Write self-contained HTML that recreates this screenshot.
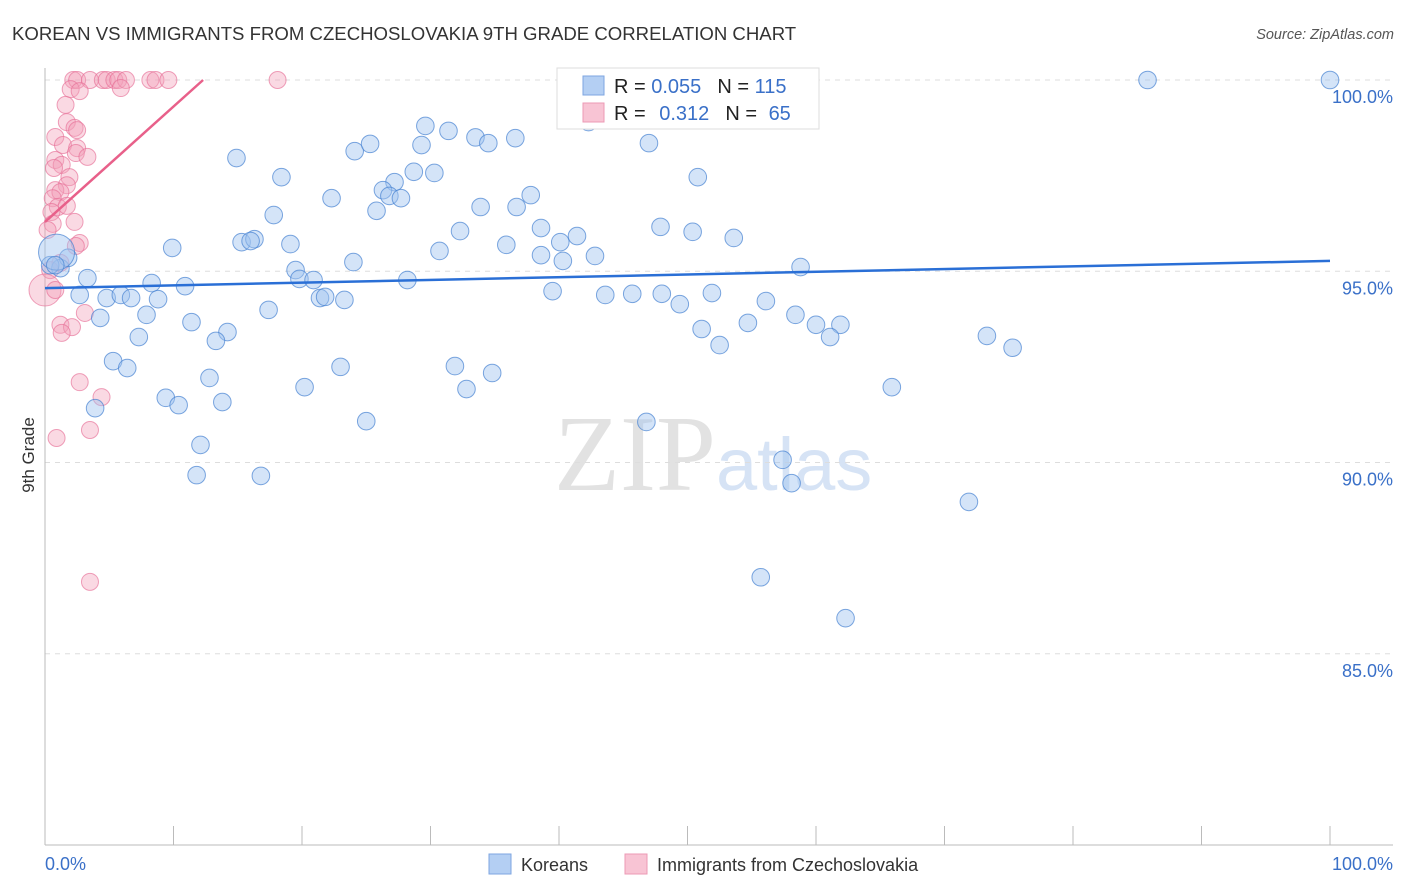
<!DOCTYPE html>
<html><head><meta charset="utf-8">
<style>
body{margin:0;background:#fff;font-family:"Liberation Sans",sans-serif}
svg{display:block}
</style></head>
<body>
<svg id="chart" width="1406" height="892" xmlns="http://www.w3.org/2000/svg">
<text x="12" y="40" font-size="18.6" fill="#333">KOREAN VS IMMIGRANTS FROM CZECHOSLOVAKIA 9TH GRADE CORRELATION CHART</text>
<text x="1394" y="39" font-size="14.5" fill="#555" font-style="italic" text-anchor="end">Source: ZipAtlas.com</text>
<text x="716" y="490" font-size="108" fill="#e2e2e2" font-family="Liberation Serif,serif" text-anchor="end">ZIP</text>
<text x="716" y="490" font-size="74" fill="#d6e3f5">atlas</text>
<g id="grid"></g>
<g id="pts"></g>
<g id="lines"></g>
<text transform="translate(34,455) rotate(-90)" font-size="17" fill="#333" text-anchor="middle">9th Grade</text>
<text x="45" y="870" font-size="18" fill="#3a70c8">0.0%</text>
<text x="1393" y="870" font-size="18" fill="#3a70c8" text-anchor="end">100.0%</text>
<g>
<rect x="557" y="68" width="262" height="61" fill="#fff" stroke="#ddd"/>
<rect x="583" y="76" width="21" height="19" fill="#b4cff3" stroke="#7ea6e0"/>
<rect x="583" y="103" width="21" height="19" fill="#f8c4d4" stroke="#ec9ab5"/>
<text x="614" y="93" font-size="20" fill="#222">R = <tspan fill="#3a70c8">0.055</tspan><tspan dx="16">N = </tspan><tspan fill="#3a70c8">115</tspan></text>
<text x="614" y="120" font-size="20" fill="#222">R = <tspan fill="#3a70c8" dx="8">0.312</tspan><tspan dx="16">N = </tspan><tspan fill="#3a70c8" dx="6">65</tspan></text>
</g>
<g>
<rect x="489" y="854" width="22" height="20" fill="#b4cff3" stroke="#7ea6e0"/>
<text x="521" y="871" font-size="18" fill="#333">Koreans</text>
<rect x="625" y="854" width="22" height="20" fill="#f8c4d4" stroke="#ec9ab5"/>
<text x="657" y="871" font-size="18" fill="#333">Immigrants from Czechoslovakia</text>
</g>
</svg>
<script>
const yTicks=[100,95,90,85];
const yTickLabels=["100.0%","95.0%","90.0%","85.0%"];
const blueX=[40.8,48.8,85.8,100,42.3,29.6,33.5,31.4,36.6,34.5,29.3,24.1,25.3,47.0,14.9,28.7,30.3,18.4,27.2,26.3,26.8,27.7,22.3,37.8,50.8,33.9,36.7,25.8,17.8,32.3,38.6,41.4,40.1,47.9,50.4,53.6,15.3,16.3,16.0,19.1,9.9,35.9,30.7,38.6,40.3,42.8,24.0,58.8,19.5,19.8,20.9,28.2,3.3,1.2,0.4,1.8,0.9,0.8,8.3,10.9,39.5,43.6,45.7,48.0,51.9,2.7,4.8,5.9,6.7,8.8,21.4,21.8,23.3,49.4,56.1,17.4,7.9,4.3,11.4,54.7,58.4,60.0,61.9,61.1,51.1,14.2,13.3,7.3,52.5,73.3,75.3,5.3,6.4,23.0,31.9,34.8,12.8,20.2,32.8,65.9,9.4,13.8,10.4,3.9,25.0,46.8,12.1,57.4,11.8,16.8,58.1,71.9,55.7,62.3];
const blueY=[100,99.95,100,100,98.9,98.8,98.5,98.67,98.48,98.35,98.3,98.14,98.33,98.35,97.96,97.6,97.57,97.46,97.33,97.12,96.97,96.91,96.91,96.99,97.46,96.68,96.68,96.58,96.47,96.05,96.13,95.92,95.76,96.16,96.03,95.87,95.76,95.84,95.79,95.71,95.61,95.69,95.53,95.42,95.27,95.4,95.24,95.11,95.03,94.8,94.77,94.77,94.82,95.08,95.16,95.35,95.5,95.16,94.69,94.61,94.48,94.38,94.41,94.41,94.43,94.38,94.3,94.38,94.3,94.27,94.3,94.33,94.25,94.14,94.22,93.99,93.86,93.78,93.67,93.65,93.86,93.6,93.6,93.28,93.49,93.41,93.18,93.28,93.07,93.31,93.0,92.65,92.47,92.5,92.52,92.34,92.21,91.97,91.92,91.97,91.69,91.58,91.5,91.42,91.08,91.06,90.46,90.07,89.67,89.65,89.46,88.97,87.0,85.93];
const pinkX=[2.2,2.5,3.5,4.5,4.8,5.4,5.7,6.3,8.2,8.6,9.6,18.1,2.0,2.7,5.9,1.6,1.7,2.3,2.5,0.8,1.4,2.5,2.4,3.3,0.8,1.3,0.7,1.9,1.7,0.8,1.2,0.6,1.0,1.7,0.5,2.3,0.6,0.2,2.7,2.4,1.2,0.4,0,0.8,3.1,1.2,2.1,1.3,2.7,4.4,3.5,0.9,3.5];
const pinkY=[100,100,100,100,100,100,100,100,100,100,100,100,99.76,99.71,99.79,99.35,98.9,98.75,98.69,98.51,98.3,98.22,98.09,97.99,97.91,97.78,97.7,97.46,97.25,97.12,97.07,96.91,96.68,96.71,96.55,96.29,96.24,96.08,95.74,95.66,95.22,95.03,94.51,94.51,93.91,93.6,93.54,93.39,92.1,91.71,90.85,90.64,86.88];
const blueTrend=[[0,94.56],[100,95.27]];
const pinkTrend=[[0,96.29],[12.3,100]];
const NS="http://www.w3.org/2000/svg";
const X=v=>45+v*12.85, Y=v=>80+(100-v)*38.25;
function mk(tag,attrs,parent){const e=document.createElementNS(NS,tag);for(const k in attrs)e.setAttribute(k,attrs[k]);parent.appendChild(e);return e;}
const grid=document.getElementById('grid');
yTicks.forEach((t,i)=>{
 const l=mk('line',{x1:45,x2:1393,y1:Y(t),y2:Y(t),stroke:'#ddd','stroke-dasharray':'5,5'},grid);
 
 
 const tx=mk('text',{x:1393,y:Y(t)+23,'font-size':18,fill:'#3a70c8','text-anchor':'end'},grid);
 tx.textContent=yTickLabels[i];
 
 
});
const ax=mk('line',{x1:45,x2:45,y1:68,y2:845,stroke:'#bbb'},grid);


const bx=mk('line',{x1:45,x2:1393,y1:845,y2:845,stroke:'#bbb'},grid);


for(let i=0;i<=10;i++){
 const t=mk('line',{x1:X(i*10),x2:X(i*10),y1:826,y2:845,stroke:'#bbb'},grid);
 
 
}
const pts=document.getElementById('pts');
pinkX.forEach((x,i)=>{
 const c=mk('circle',{cx:X(x),cy:Y(pinkY[i]),r:(x===0?16:8.5),fill:'rgba(243,160,186,0.4)',stroke:'rgba(230,110,150,0.65)','stroke-width':1},pts);
 
 
});
blueX.forEach((x,i)=>{
 const c=mk('circle',{cx:X(x),cy:Y(blueY[i]),r:(i===56?18:8.8),fill:'rgba(160,195,240,0.45)',stroke:'rgba(70,130,210,0.7)','stroke-width':1},pts);
 
 
});
const lines=document.getElementById('lines');
const bl=mk('line',{x1:X(blueTrend[0][0]),y1:Y(blueTrend[0][1]),x2:X(blueTrend[1][0]),y2:Y(blueTrend[1][1]),stroke:'#2a6fd6','stroke-width':2.5},lines);


const pl=mk('line',{x1:X(pinkTrend[0][0]),y1:Y(pinkTrend[0][1]),x2:X(pinkTrend[1][0]),y2:Y(pinkTrend[1][1]),stroke:'#e8608a','stroke-width':2.5},lines);


</script>
</body></html>
